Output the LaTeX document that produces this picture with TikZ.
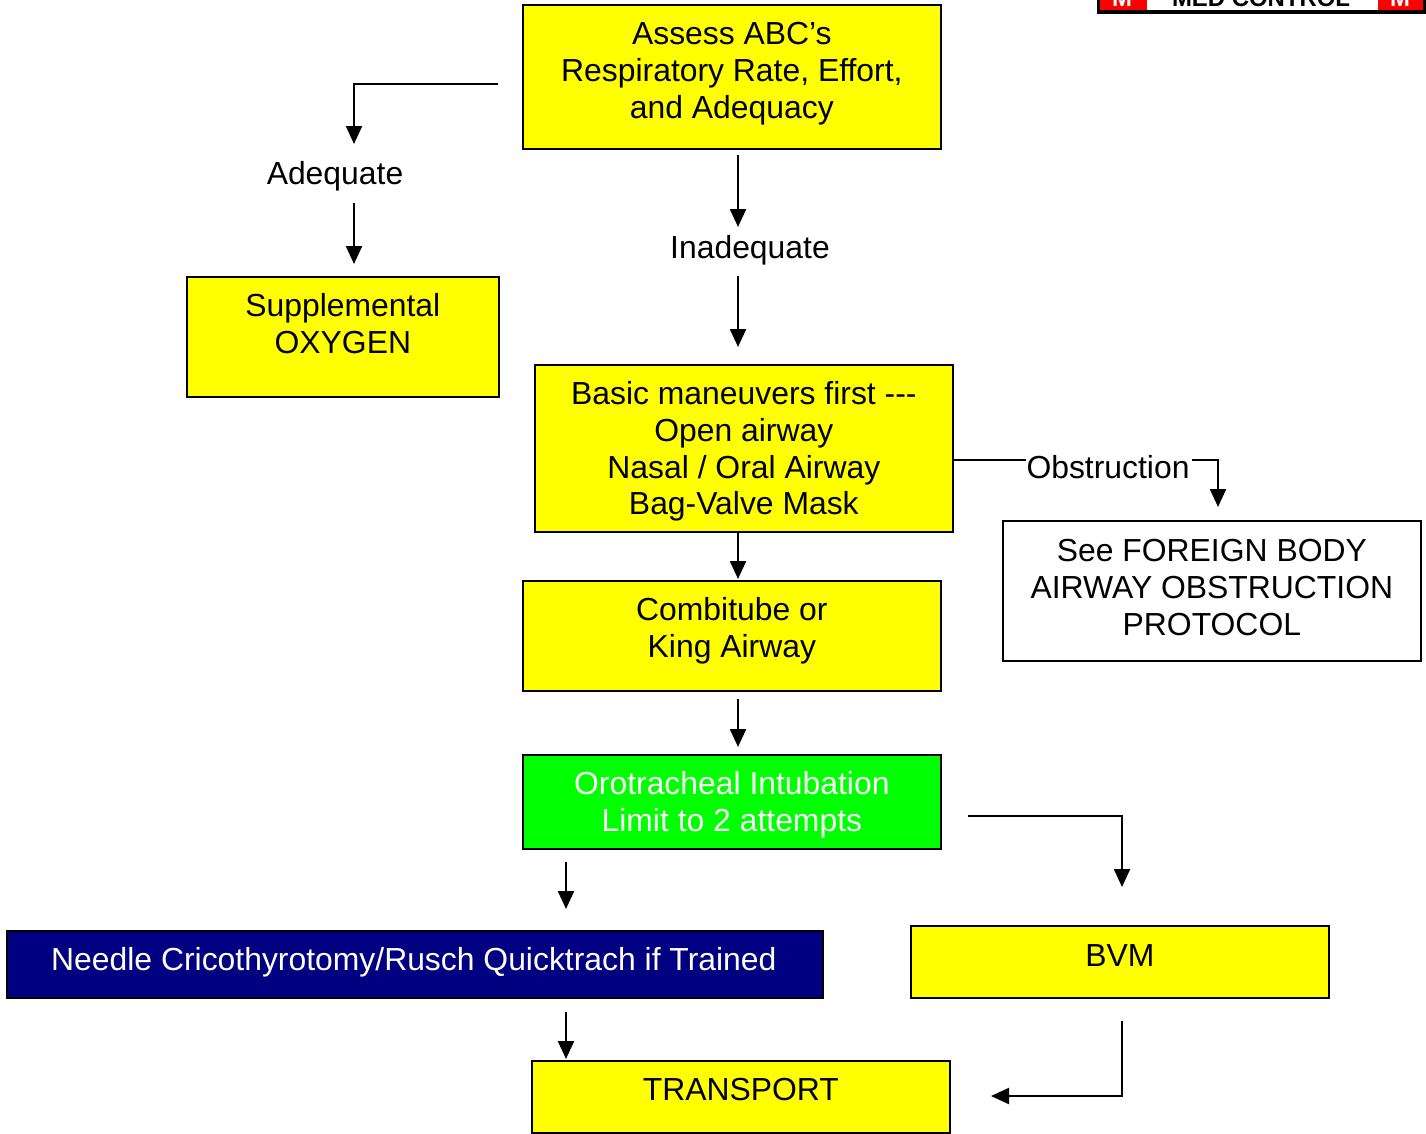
\documentclass[tikz,border=0pt]{standalone}
\usepackage{fontspec}
\setmainfont{Liberation Sans}
\usetikzlibrary{arrows.meta,calc}
\definecolor{ylw}{RGB}{255,255,0}
\definecolor{grn}{RGB}{0,255,0}
\definecolor{nvy}{RGB}{0,0,128}
\definecolor{rd}{RGB}{255,0,0}
\tikzset{
  box/.style={draw=black, line width=1.7bp, anchor=north west, inner sep=0pt},
  txt/.style={font=\fontsize{32}{37}\selectfont, align=center, anchor=north, inner sep=0pt},
  arr/.style={line width=2.2bp, -{Triangle[length=18bp,width=16bp]}},
  ln/.style={line width=2.2bp}
}
\begin{document}
\begin{tikzpicture}[x=1bp,y=-1bp]
\useasboundingbox (0,0) rectangle (1426,1133);
% MED CONTROL banner (cut off at top)
\begin{scope}
\clip (0,0) rectangle (1426,1133);
\node[box, fill=white, minimum width=326bp, minimum height=40bp, anchor=south west] (mc) at (1098,12) {};
\node[box, fill=rd, draw=none, minimum width=47bp, minimum height=38bp, anchor=south west] (mcl) at (1099,11) {};
\node[box, fill=rd, draw=none, minimum width=47bp, minimum height=38bp, anchor=south west] (mcr) at (1377,11) {};
\draw[line width=3bp] (1098,-30) rectangle (1424,12);
\node[font=\fontsize{24}{28}\selectfont\bfseries, anchor=base, inner sep=0pt] (mct) at (1261,6) {MED CONTROL};
\node[font=\fontsize{24}{28}\selectfont\bfseries, text=white, anchor=base, inner sep=0pt] (mcm1) at (1122,6) {M};
\node[font=\fontsize{24}{28}\selectfont\bfseries, text=white, anchor=base, inner sep=0pt] (mcm2) at (1400,6) {M};
\end{scope}

% boxes
\node[box, fill=ylw, minimum width=418bp, minimum height=144bp] (assess) at (522,4) {};
\node[txt] (assessT) at ($(assess.north)+(0,18)$) {Assess ABC’s\\Respiratory Rate, Effort,\\and Adequacy};

\node[box, fill=ylw, minimum width=312bp, minimum height=120bp] (supp) at (186,276) {};
\node[txt] (suppT) at ($(supp.north)+(0,17)$) {Supplemental\\OXYGEN};

\node[box, fill=ylw, minimum width=418bp, minimum height=167bp] (basic) at (534,364) {};
\node[txt] (basicT) at ($(basic.north)+(0,17)$) {Basic maneuvers first {-}{-}{-}\\Open airway\\Nasal / Oral Airway\\Bag-Valve Mask};

\node[box, fill=white, minimum width=418bp, minimum height=140bp] (fb) at (1002,520) {};
\node[txt] (fbT) at ($(fb.north)+(0,19)$) {See FOREIGN BODY\\AIRWAY OBSTRUCTION\\PROTOCOL};

\node[box, fill=ylw, minimum width=418bp, minimum height=110bp] (combi) at (522,580) {};
\node[txt] (combiT) at ($(combi.north)+(0,17)$) {Combitube or\\King Airway};

\node[box, fill=grn, minimum width=418bp, minimum height=94bp] (oro) at (522,754) {};
\node[txt, text=white] (oroT) at ($(oro.north)+(0,17)$) {Orotracheal Intubation\\Limit to 2 attempts};

\node[box, fill=nvy, minimum width=816bp, minimum height=67bp] (needle) at (6,930) {};
\node[txt, text=white] (needleT) at ($(needle.north)+(-1,17)$) {Needle Cricothyrotomy/Rusch Quicktrach if Trained};

\node[box, fill=ylw, minimum width=418bp, minimum height=72bp] (bvm) at (910,925) {};
\node[txt] (bvmT) at ($(bvm.north)+(0,19)$) {BVM};

\node[box, fill=ylw, minimum width=418bp, minimum height=72bp] (trans) at (531,1060) {};
\node[txt] (transT) at ($(trans.north)+(0,18)$) {TRANSPORT};

% labels
\node[txt, anchor=center] (adeq) at (335,176) {Adequate};
\node[txt, anchor=center] (inadeq) at (750,250) {Inadequate};
\node[txt, anchor=center] (obst) at (1108,467) {Obstruction};

% coordinates
\coordinate (a1) at (498,84);
\coordinate (a2) at (354,84);
\coordinate (a3) at (354,144);
\coordinate (b1) at (354,203);
\coordinate (b2) at (354,264);
\coordinate (c1) at (738,155);
\coordinate (c2) at (738,227);
\coordinate (d1) at (738,276);
\coordinate (d2) at (738,347);
\coordinate (e2) at (738,579);
\coordinate (f1) at (738,699);
\coordinate (f2) at (738,747);
\coordinate (g1) at (1192,460);
\coordinate (g2) at (1218,460);
\coordinate (g3) at (1218,507);
\coordinate (h1) at (968,816);
\coordinate (h2) at (1122,816);
\coordinate (h3) at (1122,887);
\coordinate (i1) at (566,862);
\coordinate (i2) at (566,909);
\coordinate (j1) at (566,1012);
\coordinate (j2) at (566,1059);
\coordinate (k1) at (1122,1021);
\coordinate (k2) at (1122,1096);
\coordinate (k3) at (991,1096);

% connectors
\draw[arr] (a1) -- (a2) -- (a3);
\draw[arr] (b1) -- (b2);
\draw[arr] (c1) -- (c2);
\draw[arr] (d1) -- (d2);
\draw[arr] (basic.south -| e2) -- (e2);
\draw[arr] (f1) -- (f2);
\draw[ln] (basic.east |- g1) -- (obst.west |- g1);
\draw[arr] (g1) -- (g2) -- (g3);
\draw[arr] (h1) -- (h2) -- (h3);
\draw[arr] (i1) -- (i2);
\draw[arr] (j1) -- (j2);
\draw[arr] (k1) -- (k2) -- (k3);
\end{tikzpicture}
\end{document}
